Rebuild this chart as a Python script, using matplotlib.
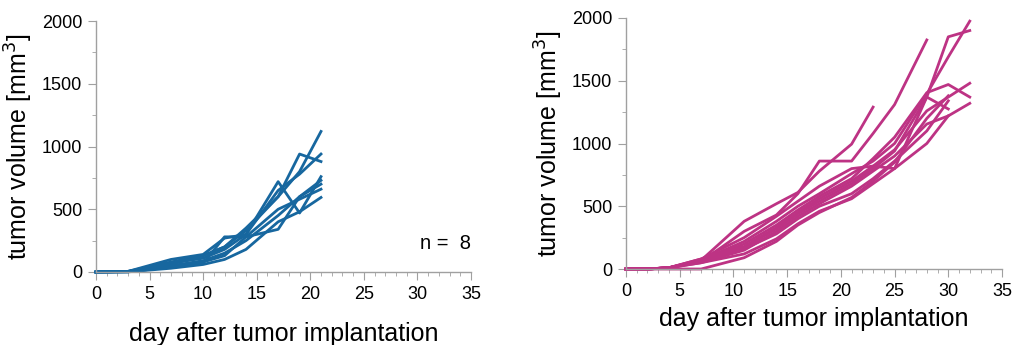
import numpy as np
import matplotlib.pyplot as plt
from matplotlib.ticker import MultipleLocator

plt.rcParams['font.family'] = ['Liberation Sans', 'DejaVu Sans']

# left group: 8 mice
days_left = [0, 3, 7, 10, 12, 14, 17, 19, 21]
vol_left = [
    [0, 5, 60, 130, 200, 350, 600, 800, 1120],
    [0, 5, 100, 140, 270, 300, 720, 470, 760],
    [0, 5, 80, 130, 200, 330, 600, 940, 880],
    [0, 3, 70, 110, 180, 300, 650, 780, 940],
    [0, 2, 50, 90, 150, 250, 450, 600, 730],
    [0, 2, 40, 80, 130, 280, 500, 580, 660],
    [0, 1, 30, 60, 100, 180, 400, 480, 594],
    [0, 2, 40, 70, 280, 280, 340, 600, 700],
]

# right group
days_right = [0, 2, 4, 7, 11, 14, 16, 18, 21, 23, 25, 28, 30, 32]
vol_right = [
    [0, 0, 10, 70, 380, 520, 610, 780, 995, 1290],
    [0, 0, 10, 60, 300, 430, 600, 860, 860, 1080, 1310, 1825],
    [0, 0, 10, 80, 250, 420, 540, 660, 800, 820, 800, 1370, 1850, 1900],
    [0, 0, 10, 70, 220, 380, 500, 600, 760, 860, 1000, 1395, 1690, 1975],
    [0, 0, 10, 60, 200, 350, 470, 580, 720, 880, 1050, 1405, 1470, 1370],
    [0, 0, 10, 80, 180, 330, 450, 560, 700, 820, 950, 1260, 1370, 1480],
    [0, 0, 10, 50, 150, 300, 420, 520, 660, 780, 900, 1155, 1220, 1320],
    [0, 0, 10, 70, 170, 320, 440, 540, 680, 800, 940, 1370, 1275],
    [0, 0, 10, 60, 160, 280, 400, 500, 600, 720, 860, 1100, 1340],
    [0, 0, 10, 50, 120, 240, 360, 460, 560, 680, 800, 1000, 1220],
    [0, 0, 0, 0, 90, 220, 350, 450, 570, 700, 850, 1200, 1380],
]

n_label = "n =  8"
blue = "#17679f"
magenta = "#bd3384"
spine_col = "#a0a0a0"

fig = plt.figure(figsize=(10.13, 3.45), dpi=100)
ax1 = fig.add_axes([96 / 1013, 73 / 345, 375 / 1013, 251 / 345])
ax2 = fig.add_axes([626 / 1013, 76 / 345, 376 / 1013, 251 / 345])


def style(ax):
    ax.set_xlim(0, 35)
    ax.set_ylim(0, 2000)
    ax.xaxis.set_major_locator(MultipleLocator(5))
    ax.xaxis.set_minor_locator(MultipleLocator(1))
    ax.yaxis.set_major_locator(MultipleLocator(500))
    ax.yaxis.set_minor_locator(MultipleLocator(250))
    for s in ['top', 'right']:
        ax.spines[s].set_visible(False)
    for s in ['left', 'bottom']:
        ax.spines[s].set_color(spine_col)
        ax.spines[s].set_linewidth(1.0)
    ax.tick_params(which='major', length=6, color=spine_col, labelsize=13, pad=4)
    ax.tick_params(which='minor', length=3, color=spine_col)
    ax.set_ylabel("tumor volume [mm$^3$]", fontsize=18, labelpad=5)


for v in vol_left:
    ax1.plot(days_left[:len(v)], v, color=blue, lw=2.0, clip_on=False)
for v in vol_right:
    ax2.plot(days_right[:len(v)], v, color=magenta, lw=2.0, clip_on=False)

style(ax1)
style(ax2)
ax1.set_xlabel("day after tumor implantation", fontsize=18, labelpad=14)
ax2.set_xlabel("day after tumor implantation", fontsize=18, labelpad=5)
ax1.text(30.2, 230, n_label, fontsize=14.5, ha='left', va='center')

fig.savefig("out.png", dpi=100)
